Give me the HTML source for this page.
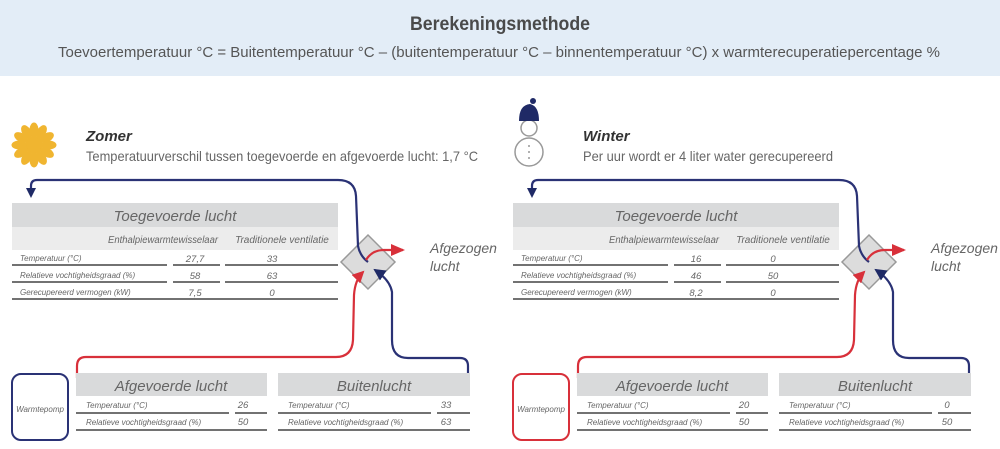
<!DOCTYPE html>
<html><head><meta charset="utf-8"><style>
html,body{margin:0;padding:0;background:#fff;}
svg{display:block;font-family:"Liberation Sans",sans-serif;}
.it{font-style:italic;fill:#666;}
</style></head><body>
<svg width="1000" height="449" viewBox="0 0 1000 449" xmlns="http://www.w3.org/2000/svg">
<defs>
<marker id="ar" markerWidth="14" markerHeight="12" refX="12" refY="6" orient="auto" markerUnits="userSpaceOnUse"><path d="M0,0 L14,6 L0,12 z" fill="#d8303a"/></marker>
<marker id="ab2" markerWidth="12" markerHeight="12" refX="10" refY="6" orient="auto" markerUnits="userSpaceOnUse"><path d="M0,0 L12,6 L0,12 z" fill="#1f2a66"/></marker>
<marker id="ar2" markerWidth="12" markerHeight="12" refX="10" refY="6" orient="auto" markerUnits="userSpaceOnUse"><path d="M0,0 L12,6 L0,12 z" fill="#d8303a"/></marker>
<g id="panel">
 <!-- diamond -->
 <path d="M368,235 L395,262 L368,289 L341,262 z" fill="#dcdcdc" stroke="#999" stroke-width="1.5"/>
 <!-- supply line -->
 <path d="M31,190 L31,186 Q31,180 37,180 L338,180 Q355,180 356,196 L358,246 Q360,256 368,262" fill="none" stroke="#2a3275" stroke-width="2.2"/>
 <path d="M26,188 L36,188 L31,198 z" fill="#1f2a66"/>
 <!-- table toegevoerde -->
 <rect x="12" y="203" width="326" height="24" fill="#d9dadb"/>
 <rect x="12" y="227" width="326" height="23" fill="#ececec"/>
 <text x="175" y="221" text-anchor="middle" class="it" font-size="15">Toegevoerde lucht</text>
 <text x="218" y="243" text-anchor="end" class="it" font-size="10" textLength="110" lengthAdjust="spacingAndGlyphs">Enthalpiewarmtewisselaar</text>
 <text x="282" y="243" text-anchor="middle" class="it" font-size="10">Traditionele ventilatie</text>
 <g stroke="#444" stroke-width="1.4">
  <line x1="12" y1="265" x2="167" y2="265"/><line x1="173" y1="265" x2="220" y2="265"/><line x1="225" y1="265" x2="338" y2="265"/>
  <line x1="12" y1="282" x2="167" y2="282"/><line x1="173" y1="282" x2="220" y2="282"/><line x1="225" y1="282" x2="338" y2="282"/>
  <line x1="12" y1="299" x2="338" y2="299"/>
 </g>
 <text x="20" y="261" class="it" font-size="8">Temperatuur (°C)</text>
 <text x="20" y="278" class="it" font-size="8">Relatieve vochtigheidsgraad (%)</text>
 <text x="20" y="295" class="it" font-size="8">Gerecupereerd vermogen (kW)</text>
 <!-- red path -->
 <path d="M77,378 L77,366 Q77,357 86,357 L336,357 Q352,357 353,340 L354,295 Q355,280 363,272" fill="none" stroke="#d8303a" stroke-width="2.2" marker-end="url(#ar2)"/>
 <path d="M366,260 Q372,250 384,250 L403,250" fill="none" stroke="#d8303a" stroke-width="2.2" marker-end="url(#ar)"/>
 <!-- blue outside path -->
 <path d="M468,377 L468,366 Q468,358 460,358 L408,358 Q392,358 392,340 L392,292 Q390,280 375,270" fill="none" stroke="#2a3275" stroke-width="2.2" marker-end="url(#ab2)"/>
 <text x="430" y="253" class="it" font-size="14">Afgezogen</text>
 <text x="430" y="271" class="it" font-size="14">lucht</text>
 <!-- bottom tables -->
 <rect x="76" y="373" width="191" height="23" fill="#d9dadb"/>
 <text x="171" y="391" text-anchor="middle" class="it" font-size="15">Afgevoerde lucht</text>
 <rect x="278" y="373" width="192" height="23" fill="#d9dadb"/>
 <text x="374" y="391" text-anchor="middle" class="it" font-size="15">Buitenlucht</text>
 <g stroke="#444" stroke-width="1.4">
  <line x1="76" y1="413" x2="229" y2="413"/><line x1="235" y1="413" x2="267" y2="413"/>
  <line x1="76" y1="430" x2="267" y2="430"/>
  <line x1="278" y1="413" x2="431" y2="413"/><line x1="437" y1="413" x2="470" y2="413"/>
  <line x1="278" y1="430" x2="470" y2="430"/>
 </g>
 <text x="86" y="408" class="it" font-size="8">Temperatuur (°C)</text>
 <text x="86" y="425" class="it" font-size="8">Relatieve vochtigheidsgraad (%)</text>
 <text x="288" y="408" class="it" font-size="8">Temperatuur (°C)</text>
 <text x="288" y="425" class="it" font-size="8">Relatieve vochtigheidsgraad (%)</text>
 <text x="40" y="412" text-anchor="middle" class="it" font-size="8">Warmtepomp</text>
</g>
</defs>
<rect x="0" y="0" width="1000" height="76" fill="#e3edf7"/>
<text x="500" y="30" text-anchor="middle" font-size="19" font-weight="bold" fill="#4a4a4a" textLength="180" lengthAdjust="spacingAndGlyphs">Berekeningsmethode</text>
<text x="58" y="57" font-size="15" fill="#555" textLength="882" lengthAdjust="spacingAndGlyphs">Toevoertemperatuur °C = Buitentemperatuur °C – (buitentemperatuur °C – binnentemperatuur °C) x warmterecuperatiepercentage %</text>

<!-- Summer -->
<use href="#panel"/>
<g transform="translate(34,145)" fill="#f0b530">
 <circle r="9"/>
 <g id="ray"><ellipse cx="0" cy="-15" rx="4.5" ry="7.5"/></g>
 <use href="#ray" transform="rotate(30)"/><use href="#ray" transform="rotate(60)"/><use href="#ray" transform="rotate(90)"/>
 <use href="#ray" transform="rotate(120)"/><use href="#ray" transform="rotate(150)"/><use href="#ray" transform="rotate(180)"/>
 <use href="#ray" transform="rotate(210)"/><use href="#ray" transform="rotate(240)"/><use href="#ray" transform="rotate(270)"/>
 <use href="#ray" transform="rotate(300)"/><use href="#ray" transform="rotate(330)"/>
</g>
<text x="86" y="141" font-size="15" font-weight="bold" font-style="italic" fill="#333">Zomer</text>
<text x="86" y="161" font-size="14" fill="#666" textLength="392" lengthAdjust="spacingAndGlyphs">Temperatuurverschil tussen toegevoerde en afgevoerde lucht: 1,7 °C</text>
<g class="it" font-size="9.5" text-anchor="middle">
 <text x="195" y="262">27,7</text><text x="272" y="262">33</text>
 <text x="195" y="279">58</text><text x="272" y="279">63</text>
 <text x="195" y="296">7,5</text><text x="272" y="296">0</text>
 <text x="243" y="408">26</text><text x="243" y="425">50</text>
 <text x="446" y="408">33</text><text x="446" y="425">63</text>
</g>
<rect x="12" y="374" width="56" height="66" rx="9" fill="none" stroke="#2a3275" stroke-width="2"/>

<!-- Winter -->
<g transform="translate(501,0)"><use href="#panel"/></g>
<g fill="none" stroke="#999" stroke-width="1.5">
 <circle cx="529" cy="128" r="8"/>
 <circle cx="529" cy="152" r="14"/>
</g>
<path d="M519,121 Q519,105 530,104 Q539,106 539,121 z" fill="#1f2a66"/>
<circle cx="533" cy="101" r="3" fill="#1f2a66"/>
<g fill="#999"><circle cx="529" cy="146" r="1"/><circle cx="529" cy="152" r="1"/><circle cx="529" cy="158" r="1"/></g>
<text x="583" y="141" font-size="15" font-weight="bold" font-style="italic" fill="#333">Winter</text>
<text x="583" y="161" font-size="14" fill="#666" textLength="250" lengthAdjust="spacingAndGlyphs">Per uur wordt er 4 liter water gerecupereerd</text>
<g class="it" font-size="9.5" text-anchor="middle">
 <text x="696" y="262">16</text><text x="773" y="262">0</text>
 <text x="696" y="279">46</text><text x="773" y="279">50</text>
 <text x="696" y="296">8,2</text><text x="773" y="296">0</text>
 <text x="744" y="408">20</text><text x="744" y="425">50</text>
 <text x="947" y="408">0</text><text x="947" y="425">50</text>
</g>
<rect x="513" y="374" width="56" height="66" rx="9" fill="none" stroke="#d8303a" stroke-width="2"/>
</svg>
</body></html>
